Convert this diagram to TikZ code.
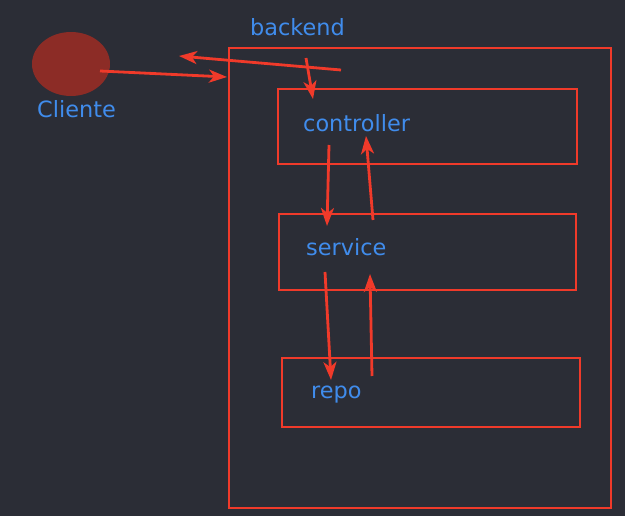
\documentclass[tikz,border=0pt]{standalone}
\usepackage{fontspec}
\setsansfont{DejaVu Sans}
\usetikzlibrary{arrows.meta, positioning, calc, shapes.geometric}
\definecolor{bgdark}{RGB}{43, 45, 54}
\definecolor{linered}{RGB}{240, 58, 42}
\definecolor{labelblue}{RGB}{64, 140, 236}
\definecolor{clientred}{RGB}{140, 44, 38}

\begin{document}
\begin{tikzpicture}[x=1pt, y=-1pt,
        box/.style={draw=linered, line width=2.8pt, inner sep=0pt},
        lbl/.style={text=labelblue, font=\sffamily\fontsize{22.4}{26}\selectfont, inner sep=0pt, anchor=base west},
        flow/.style={draw=linered, line width=2.8pt, -{Stealth[length=18pt, width=13pt, inset=5pt]}}]
        % background
        \fill[bgdark] (0,0) rectangle (625,516);

        % Cliente
        \node[ellipse, fill=clientred, minimum width=78pt, minimum height=64pt, inner sep=0pt] (cliente) at (71,64) {};
        \node[lbl] (cliente-lbl) at (37,118) {Cliente};

        % backend and its layers
        \node[box, minimum width=382pt, minimum height=460pt] (backend) at (420,278) {};
        \node[lbl] (backend-lbl) at (250,36) {backend};

        \node[box, minimum width=299pt, minimum height=75pt] (controller) at (427.5,126.5) {};
        \node[lbl] (controller-lbl) at (303,132) {controller};

        \node[box, minimum width=297pt, minimum height=76pt] (service) at (427.5,252) {};
        \node[lbl] (service-lbl) at (306,256) {service};

        \node[box, minimum width=298pt, minimum height=69pt] (repo) at (431,392.5) {};
        \node[lbl] (repo-lbl) at (311,399) {repo};

        % arrow ends
        \coordinate (cli-out) at (100,71);
        \coordinate (be-in) at (227,77);
        \coordinate (be-out) at (341,70);
        \coordinate (cli-in) at (179,56);
        \coordinate (be-down) at (306,58);
        \coordinate (ctrl-in) at (313,99);
        \coordinate (ctrl-out) at (329,145);
        \coordinate (serv-in) at (327,226);
        \coordinate (serv-up) at (373,220);
        \coordinate (ctrl-back) at (366,136);
        \coordinate (serv-out) at (325,272);
        \coordinate (repo-in) at (331,380);
        \coordinate (repo-up) at (372,376);
        \coordinate (serv-back) at (370,274);

        % requests and responses
        \draw[flow] (cli-out) -- (be-in);
        \draw[flow] (be-out) -- (cli-in);
        \draw[flow] (be-down) -- (ctrl-in);
        \draw[flow] (ctrl-out) -- (serv-in);
        \draw[flow] (serv-up) -- (ctrl-back);
        \draw[flow] (serv-out) -- (repo-in);
        \draw[flow] (repo-up) -- (serv-back);
\end{tikzpicture}
\end{document}
